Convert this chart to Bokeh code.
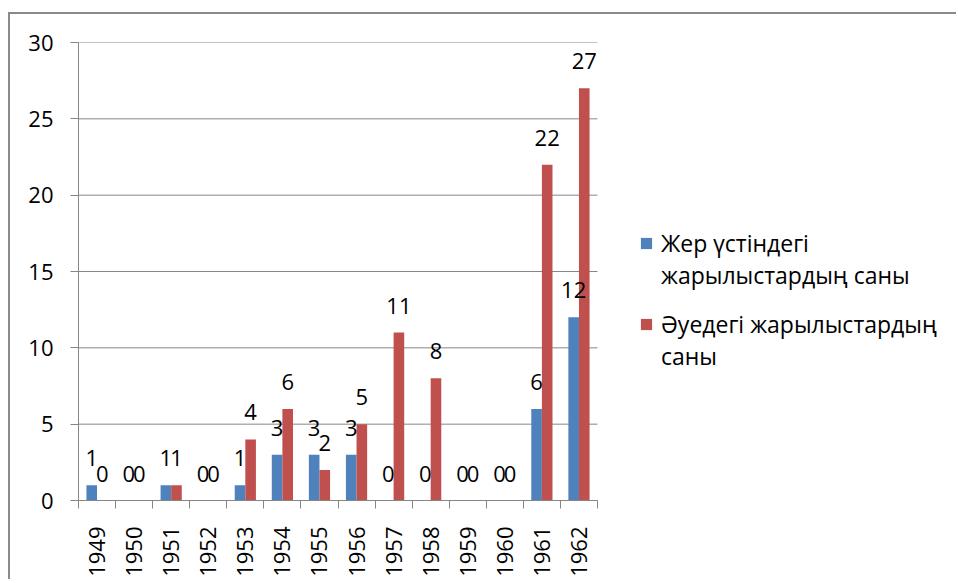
import math
from bokeh.plotting import figure
from bokeh.models import (ColumnDataSource, Range1d, FixedTicker, Legend, LegendItem)
from bokeh.embed import file_html
from bokeh.resources import INLINE
from bokeh.core.properties import value

years = ["1949", "1950", "1951", "1952", "1953", "1954", "1955",
         "1956", "1957", "1958", "1959", "1960", "1961", "1962"]
ground = [1, 0, 1, 0, 1, 3, 3, 3, 0, 0, 0, 0, 6, 12]
air = [0, 0, 1, 0, 4, 6, 2, 5, 11, 8, 0, 0, 22, 27]
legend_lines = [["Жер үстіндегі", "жарылыстардың саны"],
                ["Әуедегі жарылыстардың", "саны"]]
y_ticks = [0, 5, 10, 15, 20, 25, 30]

BLUE = "#4F81BD"
RED = "#C0504D"
GRAY = "#868686"
FONT = "Open Sans"
FS = "22px"

W, H = 948, 567
LEFT, TOP, BOTTOM = 68, 28, 81
CAT_PX = 519          # pixel width of the category area
frame_px = W - LEFT

n = len(years)
bw = 0.286
idx = list(range(n))
src = ColumnDataSource(dict(
    xg=[i + 0.5 - bw / 2 for i in idx],
    xa=[i + 0.5 + bw / 2 for i in idx],
    g=ground, a=air,
    gl=[str(v) for v in ground], al=[str(v) for v in air],
))

p = figure(width=W, height=H, output_backend="svg", toolbar_location=None,
           x_range=Range1d(0, n * frame_px / CAT_PX), y_range=Range1d(0, 30),
           min_border_left=LEFT, min_border_top=TOP, min_border_bottom=BOTTOM,
           min_border_right=0)
p.styles = {"border-top": "2px solid #8a8a8a", "border-left": "2px solid #8a8a8a",
            "margin-top": "12px", "margin-left": "8px"}
p.outline_line_color = None
p.background_fill_color = "white"
p.border_fill_color = "white"

# horizontal gridlines limited to the category area
p.segment(x0=[0] * len(y_ticks), x1=[n] * len(y_ticks), y0=y_ticks, y1=y_ticks,
          line_color=GRAY, line_width=1)

rg = p.vbar(x="xg", top="g", width=bw, bottom=0, source=src,
            fill_color=BLUE, line_color=None)
ra = p.vbar(x="xa", top="a", width=bw, bottom=0, source=src,
            fill_color=RED, line_color=None)
blank = p.vbar(x=[], top=[], width=bw, fill_alpha=0, line_alpha=0)

for xcol, ycol, lcol in (("xg", "g", "gl"), ("xa", "a", "al")):
    p.text(x=xcol, y=ycol, text=lcol, source=src, text_align="center",
           text_baseline="alphabetic", y_offset=-27,
           text_font=value(FONT), text_font_size=FS, text_color="black")

# axes
p.xaxis.bounds = (0, n)
p.xaxis.ticker = FixedTicker(ticks=[i + 0.5 for i in idx],
                             minor_ticks=list(range(n + 1)))
p.xaxis.major_label_overrides = {i + 0.5: years[i] for i in idx}
p.xaxis.major_label_orientation = math.pi / 2
p.xaxis.major_tick_out = 0
p.xaxis.major_tick_in = 0
p.xaxis.minor_tick_out = 8
p.xaxis.minor_tick_in = 0
p.xaxis.minor_tick_line_color = GRAY
p.xaxis.axis_line_color = GRAY
p.xaxis.major_label_standoff = 18

p.yaxis.ticker = FixedTicker(ticks=y_ticks)
p.yaxis.major_tick_out = 8
p.yaxis.major_tick_in = 0
p.yaxis.minor_tick_line_color = None
p.yaxis.major_tick_line_color = GRAY
p.yaxis.axis_line_color = GRAY
p.yaxis.major_label_standoff = 17

for ax in (p.xaxis, p.yaxis):
    ax.major_label_text_font = FONT
    ax.major_label_text_font_size = FS
    ax.major_label_text_color = "black"

p.xgrid.grid_line_color = None
p.ygrid.grid_line_color = None

legend_locs = [(561, 209), (561, 128)]
for lines, rend, loc in zip(legend_lines, (rg, ra), legend_locs):
    lg = Legend(items=[LegendItem(label=lines[0], renderers=[rend]),
                       LegendItem(label=lines[1], renderers=[blank])],
                location=loc, orientation="vertical",
                glyph_width=14, glyph_height=14, label_standoff=8,
                spacing=0, padding=0, margin=0,
                border_line_color=None, background_fill_alpha=0,
                label_text_font=FONT, label_text_font_size="23px",
                label_text_color="black")
    p.add_layout(lg, "center")

open("out.html", "w").write(file_html(p, INLINE))
